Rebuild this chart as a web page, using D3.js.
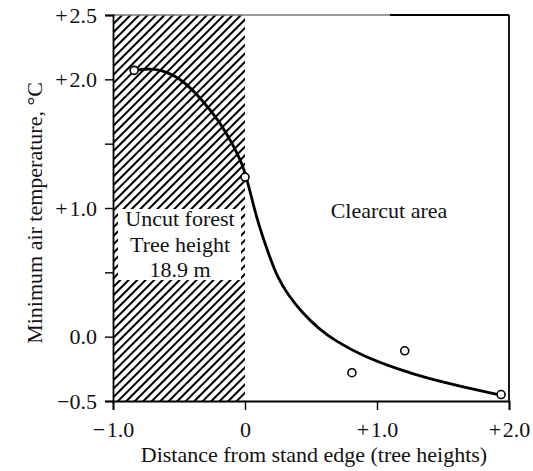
<!DOCTYPE html>
<html>
<head>
<meta charset="utf-8">
<script src="https://cdn.jsdelivr.net/npm/d3@7"></script>
<style>
  body { margin: 0; background: #fff; }
  text { font-family: "Liberation Serif", "Times New Roman", serif; fill: #111; }
</style>
</head>
<body>
<svg id="chart" width="533" height="471"></svg>
<script>
// values
const yTicks = [-0.5, 0, 0.5, 1.0, 1.5, 2.0, 2.5];
const yTickLabels = ["\u22120.5", "0.0", "", "+\u200a1.0", "", "+\u200a2.0", "+\u200a2.5"];
const xTicks = [-1, 0, 1, 2];
const xTickLabels = ["\u2212\u200a1.0", "0", "+\u200a1.0", "+\u200a2.0"];

// observed stations (distance, min temp)
const obsX = [-0.84, 0.0, 0.81, 1.21, 1.94];
const obsY = [2.07, 1.24, -0.28, -0.11, -0.45];

// fitted curve
const curveX = [-0.83, -0.77, -0.64, -0.49, -0.34, -0.19, -0.09, -0.02, 0.01, 0.05, 0.09, 0.13, 0.18, 0.25, 0.33, 0.43, 0.56, 0.68, 0.89, 1.15, 1.40, 1.65, 1.92];
const curveY = [2.07, 2.08, 2.08, 2.01, 1.86, 1.67, 1.49, 1.34, 1.24, 1.08, 0.92, 0.79, 0.64, 0.45, 0.32, 0.19, 0.06, -0.03, -0.15, -0.25, -0.33, -0.39, -0.45];

const forestZone = [-1, 0];

const svg = d3.select('#chart');
const pLeft = 113, pRight = 509, pTop = 15, pBottom = 401;

const x = d3.scaleLinear().domain([-1, 2]).range([pLeft, pRight]);
const y = d3.scaleLinear().domain([-0.5, 2.5]).range([pBottom, pTop]);

// hatch for the uncut forest
const defs = svg.append('defs');
defs.append('pattern')
    .attr('id', 'hatch')
    .attr('patternUnits', 'userSpaceOnUse')
    .attr('width', 6)
    .attr('height', 6)
    .attr('patternTransform', 'rotate(45)')
    .append('line')
    .attr('x1', 1).attr('x2', 1)
    .attr('y1', 0).attr('y2', 6)
    .style('stroke', '#000')
    .style('stroke-width', 2.1);

svg.append('rect')
    .attr('x', x(forestZone[0]))
    .attr('y', pTop)
    .attr('width', x(forestZone[1]) - x(forestZone[0]))
    .attr('height', pBottom - pTop)
    .attr('fill', 'url(#hatch)');

// white box behind forest label
svg.append('rect')
    .attr('x', 118)
    .attr('y', 209)
    .attr('width', 123)
    .attr('height', 71)
    .attr('fill', '#fff');

const forestLabel = ["Uncut forest", "Tree height", "18.9 m"];
svg.append('g').selectAll('text').data(forestLabel)
    .join('text')
    .attr('x', 180)
    .attr('y', (d, i) => 226 + i * 25.5)
    .attr('text-anchor', 'middle')
    .style('font-size', '22px')
    .text(d => d);

svg.append('text')
    .attr('x', 389)
    .attr('y', 218)
    .attr('text-anchor', 'middle')
    .style('font-size', '22px')
    .text('Clearcut area');

// frame
svg.append('line')
    .attr('x1', pLeft).attr('x2', 390).attr('y1', pTop).attr('y2', pTop)
    .style('stroke', '#777').style('stroke-width', 1.6);
svg.append('line')
    .attr('x1', 390).attr('x2', pRight).attr('y1', pTop).attr('y2', pTop)
    .style('stroke', '#000').style('stroke-width', 1.8);
svg.append('line')
    .attr('x1', pRight).attr('x2', pRight).attr('y1', pTop).attr('y2', pBottom)
    .style('stroke', '#000').style('stroke-width', 1.8);

// axes
const yAxis = svg.append('g')
    .attr('transform', `translate(${pLeft},0)`)
    .call(d3.axisLeft(y).tickValues(yTicks).tickSize(8).tickPadding(8)
        .tickFormat((d, i) => yTickLabels[i]));
yAxis.select('.domain').style('stroke', '#000').style('stroke-width', 1.8);
yAxis.selectAll('.tick line').style('stroke', '#000').style('stroke-width', 1.4);
yAxis.selectAll('.tick text')
    .style('font-family', '"Liberation Serif", "Times New Roman", serif')
    .style('font-size', '22px')
    .style('fill', '#111')
    .attr('dy', '0.33em');

const xAxis = svg.append('g')
    .attr('transform', `translate(0,${pBottom})`)
    .call(d3.axisBottom(x).tickValues(xTicks).tickSize(9).tickPadding(6)
        .tickFormat((d, i) => xTickLabels[i]));
xAxis.select('.domain').style('stroke', '#000').style('stroke-width', 1.8);
xAxis.selectAll('.tick line').style('stroke', '#000').style('stroke-width', 1.4);
xAxis.selectAll('.tick text')
    .style('font-family', '"Liberation Serif", "Times New Roman", serif')
    .style('font-size', '22px')
    .style('fill', '#111')
    .attr('dy', '0.95em');

// axis titles
svg.append('text')
    .attr('x', (pLeft + pRight) / 2 + 3)
    .attr('y', 462)
    .attr('text-anchor', 'middle')
    .style('font-size', '22px')
    .text('Distance from stand edge (tree heights)');

svg.append('text')
    .attr('transform', 'translate(42,213) rotate(-90)')
    .attr('text-anchor', 'middle')
    .style('font-size', '22px')
    .text('Minimum air temperature, \u00b0C');

// fitted curve
const curveData = curveX.map((d, i) => ({x: d, y: curveY[i]}));
const line = d3.line()
    .x(d => x(d.x))
    .y(d => y(d.y))
    .curve(d3.curveBasis);
svg.append('path')
    .attr('d', line(curveData))
    .attr('fill', 'none')
    .style('stroke', '#000')
    .style('stroke-width', 2.8);

// observations
const obsData = obsX.map((d, i) => ({x: d, y: obsY[i]}));
svg.append('g').selectAll('circle').data(obsData)
    .join('circle')
    .attr('cx', d => x(d.x))
    .attr('cy', d => y(d.y))
    .attr('r', 4)
    .attr('fill', '#fff')
    .style('stroke', '#000')
    .style('stroke-width', 1.6);
</script>
</body>
</html>
